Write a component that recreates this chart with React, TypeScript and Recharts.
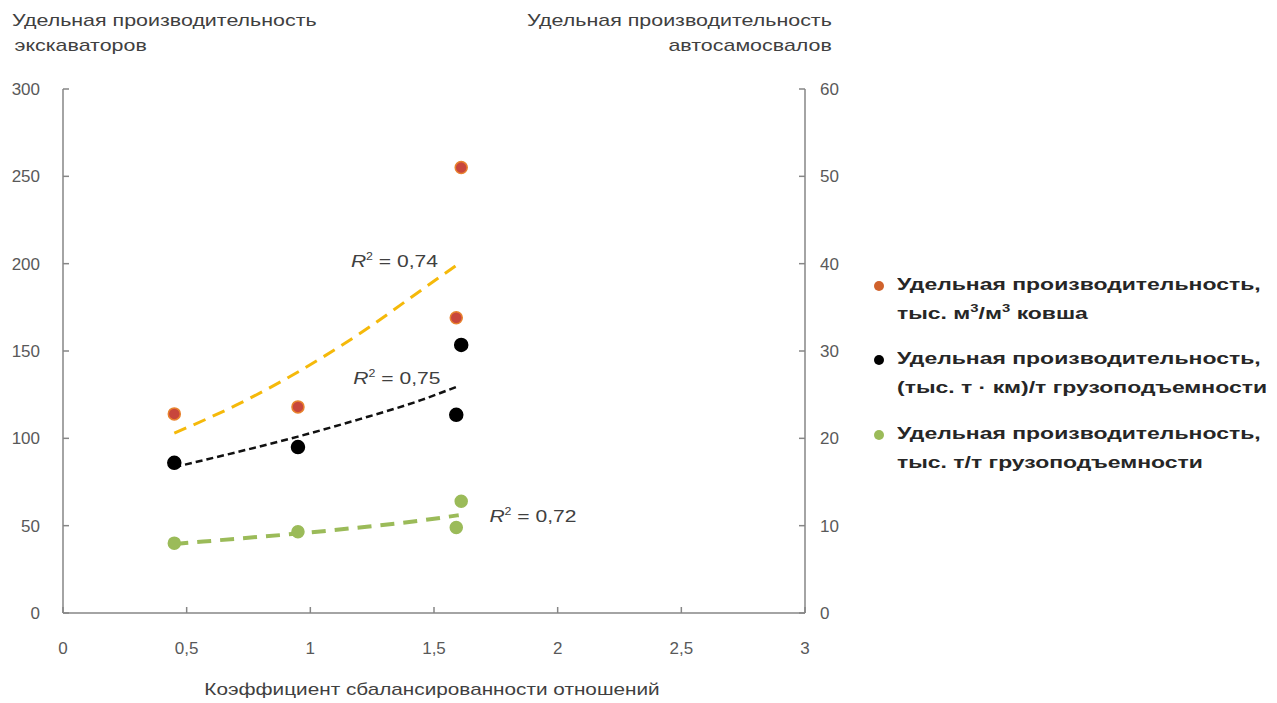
import React from 'react';
import { ScatterChart, Scatter, XAxis, YAxis, ReferenceDot } from 'recharts';

// ticks
const xTicks = [0, 0.5, 1, 1.5, 2, 2.5, 3];
const leftTicks = [0, 50, 100, 150, 200, 250, 300];
const rightTicks = [0, 10, 20, 30, 40, 50, 60];

// excavators, тыс. м3/м3 ковша (left axis)
const bucketPoints = [
  { x: 0.45, y: 114 },
  { x: 0.95, y: 118 },
  { x: 1.59, y: 169 },
  { x: 1.61, y: 255 },
];
// trucks, (тыс. т·км)/т (right axis)
const tkmPoints = [
  { x: 0.45, y: 17.2 },
  { x: 0.95, y: 19 },
  { x: 1.59, y: 22.7 },
  { x: 1.61, y: 30.7 },
];
// trucks, тыс. т/т (right axis)
const ttPoints = [
  { x: 0.45, y: 8 },
  { x: 0.95, y: 9.3 },
  { x: 1.59, y: 9.8 },
  { x: 1.61, y: 12.8 },
];

// trend lines
const bucketTrend = [
  { x: 0.45, y: 103 },
  { x: 0.7, y: 119 },
  { x: 0.95, y: 138 },
  { x: 1.2, y: 160 },
  { x: 1.45, y: 185 },
  { x: 1.6, y: 200 },
];
const tkmTrend = [
  { x: 0.45, y: 16.7 },
  { x: 0.7, y: 18.4 },
  { x: 0.95, y: 20.2 },
  { x: 1.2, y: 22.2 },
  { x: 1.45, y: 24.4 },
  { x: 1.6, y: 26 },
];
const ttTrend = [
  { x: 0.45, y: 7.9 },
  { x: 0.7, y: 8.5 },
  { x: 0.95, y: 9.1 },
  { x: 1.2, y: 9.8 },
  { x: 1.45, y: 10.6 },
  { x: 1.6, y: 11.2 },
];

const W = 1277;
const H = 703;
const margin = { top: 89, right: 412, bottom: 60, left: 3 };
const AXIS_W = 60;
const PLOT_LEFT = margin.left + AXIS_W;
const PLOT_RIGHT = W - margin.right - AXIS_W;
const PLOT_BOTTOM = H - margin.bottom - 30;

const FONT = '"Liberation Sans", Arial, sans-serif';
const tickColor = '#595959';
const axisColor = '#868686';

const fmt = (v: number) => String(v).replace('.', ',');

const LeftTick = (props: any) => {
  const { y, payload } = props;
  return (
    <g>
      <line x1={PLOT_LEFT} x2={PLOT_LEFT + 6} y1={y} y2={y} stroke={axisColor} strokeWidth={1.5} />
      <text x={PLOT_LEFT - 23} y={y + 6} textAnchor="end" fill={tickColor} fontSize={17} fontFamily={FONT}>
        {payload.value}
      </text>
    </g>
  );
};

const RightTick = (props: any) => {
  const { y, payload } = props;
  return (
    <g>
      <line x1={PLOT_RIGHT} x2={PLOT_RIGHT - 6} y1={y} y2={y} stroke={axisColor} strokeWidth={1.5} />
      <text x={PLOT_RIGHT + 15} y={y + 6} textAnchor="start" fill={tickColor} fontSize={17} fontFamily={FONT}>
        {payload.value}
      </text>
    </g>
  );
};

const BottomTick = (props: any) => {
  const { x, payload } = props;
  return (
    <g>
      <line x1={x} x2={x} y1={PLOT_BOTTOM} y2={PLOT_BOTTOM - 6} stroke={axisColor} strokeWidth={1.5} />
      <text x={x} y={PLOT_BOTTOM + 41} textAnchor="middle" fill={tickColor} fontSize={17} fontFamily={FONT}>
        {fmt(payload.value)}
      </text>
    </g>
  );
};

const dot = (fill: string, stroke: string, r: number) => (p: any) =>
  <circle cx={p.cx} cy={p.cy} r={r} fill={fill} stroke={stroke} strokeWidth={1.5} />;

const noDot = () => <g />;

const rLabel = (value: string) => (p: any) => (
  <g transform={`translate(${p.cx},${p.cy}) scale(1.24,1)`}>
    <text x={0} y={0} textAnchor="middle" fill="#404040" fontSize={17} fontFamily={FONT}>
      <tspan fontStyle="italic">R</tspan>
      <tspan fontSize={10} dy={-7}>2</tspan>
      <tspan dy={7}>{` = ${value}`}</tspan>
    </text>
  </g>
);

const sup = { fontSize: 11, lineHeight: 0 };
const legendItems = [
  { color: '#d0622c', lines: ['Удельная производительность,', <>тыс. м<sup style={sup}>3</sup>/м<sup style={sup}>3</sup> ковша</>] },
  { color: '#000000', lines: ['Удельная производительность,', '(тыс. т · км)/т грузоподъемности'] },
  { color: '#9bbb59', lines: ['Удельная производительность,', 'тыс. т/т грузоподъемности'] },
];
const legendTops = [270, 344, 419];

const stretch = (origin: string, k: number) => ({ transform: `scaleX(${k})`, transformOrigin: origin });

export default function App() {
  return (
    <div style={{ position: 'absolute', left: 0, top: 0, width: W, height: H, background: '#fff', fontFamily: FONT }}>
      <ScatterChart width={W} height={H} margin={margin}>
        <XAxis
          type="number"
          dataKey="x"
          domain={[0, 3]}
          ticks={xTicks}
          height={30}
          tickSize={0}
          tickLine={false}
          axisLine={{ stroke: axisColor, strokeWidth: 1.5 }}
          tick={<BottomTick />}
        />
        <YAxis
          yAxisId="left"
          type="number"
          dataKey="y"
          domain={[0, 300]}
          ticks={leftTicks}
          width={AXIS_W}
          tickSize={0}
          tickLine={false}
          axisLine={{ stroke: axisColor, strokeWidth: 1.5 }}
          tick={<LeftTick />}
        />
        <YAxis
          yAxisId="right"
          orientation="right"
          type="number"
          dataKey="y"
          domain={[0, 60]}
          ticks={rightTicks}
          width={AXIS_W}
          tickSize={0}
          tickLine={false}
          axisLine={{ stroke: axisColor, strokeWidth: 1.5 }}
          tick={<RightTick />}
        />

        <Scatter
          yAxisId="left"
          data={bucketTrend}
          line={{ stroke: '#f5b90a', strokeWidth: 3, strokeDasharray: '13 8' }}
          lineJointType="monotoneX"
          shape={noDot}
          isAnimationActive={false}
        />
        <Scatter
          yAxisId="right"
          data={tkmTrend}
          line={{ stroke: '#111111', strokeWidth: 2.5, strokeDasharray: '7 4' }}
          lineJointType="monotoneX"
          shape={noDot}
          isAnimationActive={false}
        />
        <Scatter
          yAxisId="right"
          data={ttTrend}
          line={{ stroke: '#9bbb59', strokeWidth: 4, strokeDasharray: '14 9' }}
          lineJointType="monotoneX"
          shape={noDot}
          isAnimationActive={false}
        />

        <Scatter yAxisId="left" data={bucketPoints} shape={dot('#c8463c', '#e8822e', 6)} isAnimationActive={false} />
        <Scatter yAxisId="right" data={tkmPoints} shape={dot('#000000', '#000000', 6.5)} isAnimationActive={false} />
        <Scatter yAxisId="right" data={ttPoints} shape={dot('#9bbb59', '#9bbb59', 6)} isAnimationActive={false} />

        <ReferenceDot yAxisId="left" x={1.34} y={198} r={0} shape={rLabel('0,74')} />
        <ReferenceDot yAxisId="left" x={1.35} y={131} r={0} shape={rLabel('0,75')} />
        <ReferenceDot yAxisId="left" x={1.9} y={52} r={0} shape={rLabel('0,72')} />
      </ScatterChart>

      <div style={{ position: 'absolute', left: 12, top: 8, fontSize: 17, lineHeight: '25px', color: '#404040', whiteSpace: 'nowrap', ...stretch('left', 1.26) }}>
        <div>Удельная производительность</div>
        <div style={{ paddingLeft: 2 }}>экскаваторов</div>
      </div>
      <div style={{ position: 'absolute', right: W - 832, top: 8, fontSize: 17, lineHeight: '25px', color: '#404040', textAlign: 'right', whiteSpace: 'nowrap', ...stretch('right', 1.26) }}>
        <div>Удельная производительность</div>
        <div>автосамосвалов</div>
      </div>
      <div style={{ position: 'absolute', left: 0, width: 864, top: 677, fontSize: 17, lineHeight: '25px', color: '#404040', textAlign: 'center', whiteSpace: 'nowrap', ...stretch('center', 1.22) }}>
        Коэффициент сбалансированности отношений
      </div>

      {legendItems.map((item, i) => (
        <div key={i} style={{ position: 'absolute', left: 874, top: legendTops[i], fontSize: 17, lineHeight: '29px', color: '#262626', fontWeight: 'bold' }}>
          <span style={{ position: 'absolute', left: 0, top: 11, width: 10, height: 10, borderRadius: 5, background: item.color }} />
          <div style={{ paddingLeft: 23, ...stretch('23px 0', 1.35) }}>
            {item.lines.map((l, j) => (
              <div key={j} style={{ whiteSpace: 'nowrap' }}>{l}</div>
            ))}
          </div>
        </div>
      ))}
    </div>
  );
}
